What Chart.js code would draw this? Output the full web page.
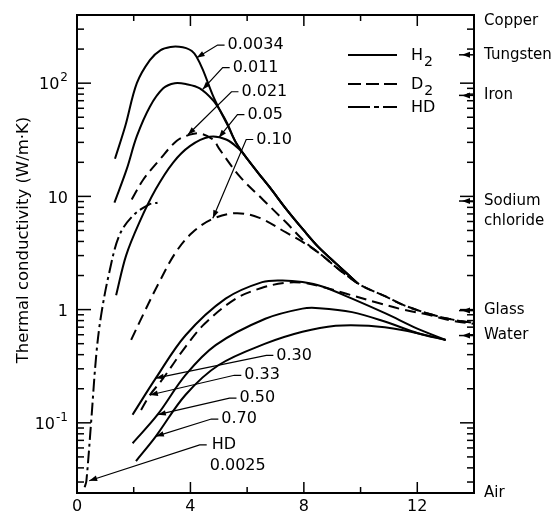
<!DOCTYPE html>
<html>
<head>
<meta charset="utf-8">
<script src="https://cdn.jsdelivr.net/npm/chart.js@4.4.0/dist/chart.umd.min.js"></script>
<style>
  body { margin: 0; background: #fff; }
  #wrap { width: 558px; height: 516px; }
</style>
</head>
<body>
<div id="wrap"><canvas id="ctx" width="558" height="516"></canvas></div>
<script>
// temperature (K) vs thermal conductivity (W/m·K)
const h2_0034_T = [1.34, 1.70, 2.11, 2.57, 2.95, 3.3, 3.6, 3.85, 4.05, 4.21, 4.44, 4.79, 5.05, 5.3, 5.6, 6.0, 6.4, 6.8, 7.4, 8.0, 8.5, 9.1, 9.9];
const h2_0034_K = [21.5, 41.6, 100, 160, 196, 209, 210, 204, 192, 172, 131, 78, 57, 43, 30, 21.5, 16, 12, 7.6, 5.0, 3.6, 2.6, 1.7];

const h2_011_T = [1.32, 1.75, 2.11, 2.57, 3.04, 3.45, 3.86, 4.33, 4.79, 5.05, 5.3, 5.6, 6.0, 6.4, 6.8, 7.4, 8.0, 8.5, 9.1, 9.9];
const h2_011_K = [8.8, 17.3, 34, 62, 90, 100, 98, 90, 71, 57, 44, 30, 21.5, 16, 12, 7.6, 5.0, 3.6, 2.6, 1.7];

const h2_05_T = [1.38, 1.73, 2.2, 2.78, 3.39, 3.98, 4.68, 5.26, 5.73, 6.0, 6.4, 6.8, 7.4, 8.0, 8.5, 9.1, 9.9];
const h2_05_K = [1.34, 3.0, 5.9, 11.6, 19.9, 27.8, 33.6, 31.8, 26, 21.5, 16, 12, 7.6, 5.0, 3.6, 2.6, 1.7];

const d2_021_T = [1.93, 2.34, 2.92, 3.51, 3.98, 4.33, 4.79, 5.03, 5.73, 6.55, 7.37, 8.07, 8.65, 9.3, 10.0, 10.9, 11.5, 12.4, 13.2, 14];
const d2_021_K = [9.4, 14.1, 21.2, 30.8, 35.1, 36.0, 31.9, 26, 15.1, 9.4, 5.9, 3.9, 3.0, 2.2, 1.65, 1.3, 1.1, 0.92, 0.82, 0.76];

const d2_10_T = [1.91, 2.32, 2.9, 3.48, 4.07, 4.77, 5.59, 6.41, 7.37, 8.07, 8.65, 9.3, 10.0, 10.9, 11.5, 12.4, 13.2, 14];
const d2_10_K = [0.54, 0.89, 1.75, 3.2, 4.8, 6.3, 7.1, 6.5, 4.8, 3.8, 3.0, 2.2, 1.65, 1.3, 1.1, 0.92, 0.82, 0.76];

const hd_T = [0.27, 0.33, 0.50, 0.68, 0.85, 1.14, 1.49, 1.96, 2.55, 2.84];
const hd_K = [0.027, 0.0306, 0.103, 0.40, 0.89, 2.14, 4.5, 6.7, 8.5, 8.8];

const h2_30_T = [1.96, 2.78, 3.83, 5.24, 6.53, 7.25, 7.95, 8.65, 9.7, 10.9, 12.0, 13.0];
const h2_30_K = [0.118, 0.248, 0.594, 1.25, 1.75, 1.81, 1.75, 1.6, 1.25, 0.92, 0.68, 0.54];

const d2_33_T = [2.26, 2.57, 3.0, 3.8, 4.5, 5.6, 6.5, 7.3, 8.0, 8.8, 9.5, 10.6, 11.5, 12.4, 13.2, 14];
const d2_33_K = [0.13, 0.176, 0.24, 0.46, 0.75, 1.25, 1.55, 1.72, 1.72, 1.55, 1.38, 1.15, 1.0, 0.9, 0.8, 0.75];

const h2_50_T = [1.96, 2.84, 3.83, 4.89, 6.64, 7.95, 8.54, 9.7, 10.88, 12.05, 13.0];
const h2_50_K = [0.066, 0.118, 0.265, 0.486, 0.83, 1.02, 1.03, 0.95, 0.78, 0.615, 0.54];

const h2_70_T = [2.08, 2.78, 3.83, 5.0, 6.64, 7.95, 9.12, 10.29, 11.46, 13.0];
const h2_70_K = [0.046, 0.076, 0.177, 0.324, 0.50, 0.637, 0.72, 0.72, 0.66, 0.54];

// axes
const xMin = 0, xMax = 14;
const xTickValues = [2, 4, 6, 8, 10, 12];
const xTickLabels = [0, 4, 8, 12];
const yMin = 0.024, yMax = 400;
const yTickValues = [0.1, 1, 10, 100];
const yTickBase = ['10', '1', '10', '10'];
const yTickExp = ['-1', '', '', '2'];

// curve labels: text anchor and arrow tip, in data units
const noteLabels = ['0.0034', '0.011', '0.021', '0.05', '0.10', '0.30', '0.33', '0.50', '0.70'];
const noteTextT = [5.31, 5.49, 5.80, 6.01, 6.32, 7.03, 5.90, 5.73, 5.09];
const noteTextK = [217, 137, 84, 52.8, 31.8, 0.394, 0.263, 0.165, 0.108];
const noteTipT = [4.22, 4.43, 3.91, 5.0, 4.79, 2.78, 2.57, 2.85, 2.78];
const noteTipK = [168, 88, 35, 33, 6.4, 0.248, 0.176, 0.118, 0.076];
const hdNote = ['HD', '0.0025'];
const hdNoteT = 4.68, hdNoteK = 0.0638, hdTipT = 0.43, hdTipK = 0.0308;

// reference materials on the right axis
const materialNames = ['Copper', 'Tungsten', 'Iron', 'Sodium\nchloride', 'Glass', 'Water', 'Air'];
const materialK = [400, 178, 78, 9.1, 0.98, 0.59, 0.024];

const FONT = '"DejaVu Sans", sans-serif';
const SOLID = [], DASH = [11, 6], DASHDOT = [13, 4, 3, 4];

function pts(T, K) {
  return T.map((t, i) => ({ x: t, y: K[i] }));
}

const series = [
  { data: pts(h2_0034_T, h2_0034_K), dash: SOLID },
  { data: pts(h2_011_T, h2_011_K), dash: SOLID },
  { data: pts(h2_05_T, h2_05_K), dash: SOLID },
  { data: pts(d2_021_T, d2_021_K), dash: DASH },
  { data: pts(d2_10_T, d2_10_K), dash: DASH },
  { data: pts(hd_T, hd_K), dash: DASHDOT },
  { data: pts(h2_30_T, h2_30_K), dash: SOLID },
  { data: pts(d2_33_T, d2_33_K), dash: DASH },
  { data: pts(h2_50_T, h2_50_K), dash: SOLID },
  { data: pts(h2_70_T, h2_70_K), dash: SOLID },
];

function arrowHead(ctx, fx, fy, tx, ty, len, half) {
  const ang = Math.atan2(ty - fy, tx - fx);
  ctx.beginPath();
  ctx.moveTo(tx, ty);
  ctx.lineTo(tx - len * Math.cos(ang) + half * Math.sin(ang), ty - len * Math.sin(ang) - half * Math.cos(ang));
  ctx.lineTo(tx - len * Math.cos(ang) - half * Math.sin(ang), ty - len * Math.sin(ang) + half * Math.cos(ang));
  ctx.closePath();
  ctx.fill();
}

// frame with inward ticks on all four sides, plus y tick labels
const frame = {
  id: 'frame',
  afterDatasetsDraw(chart) {
    const { ctx, chartArea: a, scales: { x, y } } = chart;
    ctx.save();
    ctx.strokeStyle = '#000';
    ctx.fillStyle = '#000';
    ctx.lineWidth = 2;
    ctx.strokeRect(a.left, a.top, a.right - a.left, a.bottom - a.top);
    ctx.lineWidth = 1.5;
    const seg = (x1, y1, x2, y2) => { ctx.beginPath(); ctx.moveTo(x1, y1); ctx.lineTo(x2, y2); ctx.stroke(); };
    xTickValues.forEach(v => {
      const px = x.getPixelForValue(v);
      const len = xTickLabels.includes(v) ? 11 : 6;
      seg(px, a.bottom, px, a.bottom - len);
      seg(px, a.top, px, a.top + len);
    });
    for (let e = -2; e <= 2; e++) {
      for (let k = 1; k <= 9; k++) {
        const v = k * Math.pow(10, e);
        if (v <= yMin || v >= yMax) continue;
        const py = y.getPixelForValue(v);
        const len = k === 1 ? 14 : 7;
        seg(a.left, py, a.left + len, py);
        seg(a.right, py, a.right - len, py);
      }
    }
    // decade labels with raised exponents
    ctx.textBaseline = 'middle';
    ctx.textAlign = 'right';
    yTickValues.forEach((v, i) => {
      const py = y.getPixelForValue(v) + 2;
      let right = a.left - 9;
      if (yTickExp[i]) {
        ctx.font = '12px ' + FONT;
        ctx.fillText(yTickExp[i], right, py - 7);
        right -= ctx.measureText(yTickExp[i]).width + 1;
      }
      ctx.font = '16px ' + FONT;
      ctx.fillText(yTickBase[i], right, py);
    });
    ctx.restore();
  }
};

const texts = {
  id: 'texts',
  afterDraw(chart) {
    const { ctx, chartArea: a, scales: { x, y } } = chart;
    ctx.save();
    ctx.fillStyle = '#000';
    ctx.strokeStyle = '#000';
    ctx.textBaseline = 'middle';
    ctx.textAlign = 'left';

    // curve labels with leader arrows
    ctx.font = '16px ' + FONT;
    ctx.lineWidth = 1.2;
    const leader = (tx, ty, px, py) => {
      ctx.beginPath();
      ctx.moveTo(tx - 3, ty);
      ctx.lineTo(tx - 10, ty);
      ctx.lineTo(px, py);
      ctx.stroke();
      arrowHead(ctx, tx - 10, ty, px, py, 8, 2.8);
    };
    noteLabels.forEach((lab, i) => {
      const tx = x.getPixelForValue(noteTextT[i]);
      const ty = y.getPixelForValue(noteTextK[i]);
      ctx.fillText(lab, tx, ty);
      leader(tx, ty, x.getPixelForValue(noteTipT[i]), y.getPixelForValue(noteTipK[i]));
    });
    const hx = x.getPixelForValue(hdNoteT), hy = y.getPixelForValue(hdNoteK);
    ctx.fillText(hdNote[0], hx + 2, hy);
    ctx.fillText(hdNote[1], hx, hy + 21);
    leader(hx, hy, x.getPixelForValue(hdTipT), y.getPixelForValue(hdTipK));

    // legend
    const legend = [
      { name: 'H', sub: '2', dash: SOLID, y: 55 },
      { name: 'D', sub: '2', dash: [13, 5], y: 84 },
      { name: 'HD', sub: '', dash: [22, 4, 5, 4], y: 107 },
    ];
    ctx.lineWidth = 2;
    legend.forEach(it => {
      ctx.setLineDash(it.dash);
      ctx.beginPath();
      ctx.moveTo(348, it.y);
      ctx.lineTo(397, it.y);
      ctx.stroke();
      ctx.setLineDash([]);
      ctx.font = '16px ' + FONT;
      ctx.fillText(it.name, 411, it.y + 1);
      if (it.sub) {
        const w = ctx.measureText(it.name).width;
        ctx.font = '14px ' + FONT;
        ctx.fillText(it.sub, 411 + w + 1, it.y + 7);
      }
    });

    // reference materials on the right axis
    ctx.font = '15px ' + FONT;
    ctx.lineWidth = 1.5;
    materialNames.forEach((name, i) => {
      const py = y.getPixelForValue(materialK[i]);
      const ly = Math.min(Math.max(py, a.top + 6), a.bottom);
      name.split('\n').forEach((line, j) => ctx.fillText(line, a.right + 10, ly + j * 20));
      if (i > 0 && i < materialNames.length - 1) {
        ctx.beginPath();
        ctx.moveTo(a.right - 15, py);
        ctx.lineTo(a.right, py);
        ctx.stroke();
        arrowHead(ctx, a.right - 2, py, a.right - 12, py, 8, 3);
      }
    });

    // y axis title
    ctx.font = '16.5px ' + FONT;
    ctx.textAlign = 'center';
    ctx.translate(24, 240);
    ctx.rotate(-Math.PI / 2);
    ctx.fillText('Thermal conductivity (W/m·K)', 0, 0);
    ctx.restore();
  }
};

new Chart(document.getElementById('ctx'), {
  type: 'line',
  data: {
    datasets: series.map(s => ({
      data: s.data,
      borderColor: '#000',
      borderWidth: 2,
      borderDash: s.dash,
      pointRadius: 0,
      fill: false,
      tension: 0.35,
    })),
  },
  options: {
    responsive: false,
    animation: false,
    layout: { padding: { top: 15, right: 84, left: 0, bottom: 0 } },
    plugins: { legend: { display: false }, tooltip: { enabled: false } },
    scales: {
      x: {
        type: 'linear', min: xMin, max: xMax,
        grid: { display: false, drawTicks: false }, border: { display: false },
        ticks: {
          stepSize: 2, padding: 4, color: '#000', autoSkip: false, maxRotation: 0,
          font: { family: FONT, size: 16 },
          callback: (v) => (xTickLabels.includes(v) ? String(v) : ''),
        },
        afterFit: (axis) => { axis.height = 23; },
      },
      y: {
        type: 'logarithmic', min: yMin, max: yMax,
        grid: { display: false, drawTicks: false }, border: { display: false },
        ticks: { display: false },
        afterFit: (axis) => { axis.width = 77; },
      },
    },
  },
  plugins: [frame, texts],
});
</script>
</body>
</html>
